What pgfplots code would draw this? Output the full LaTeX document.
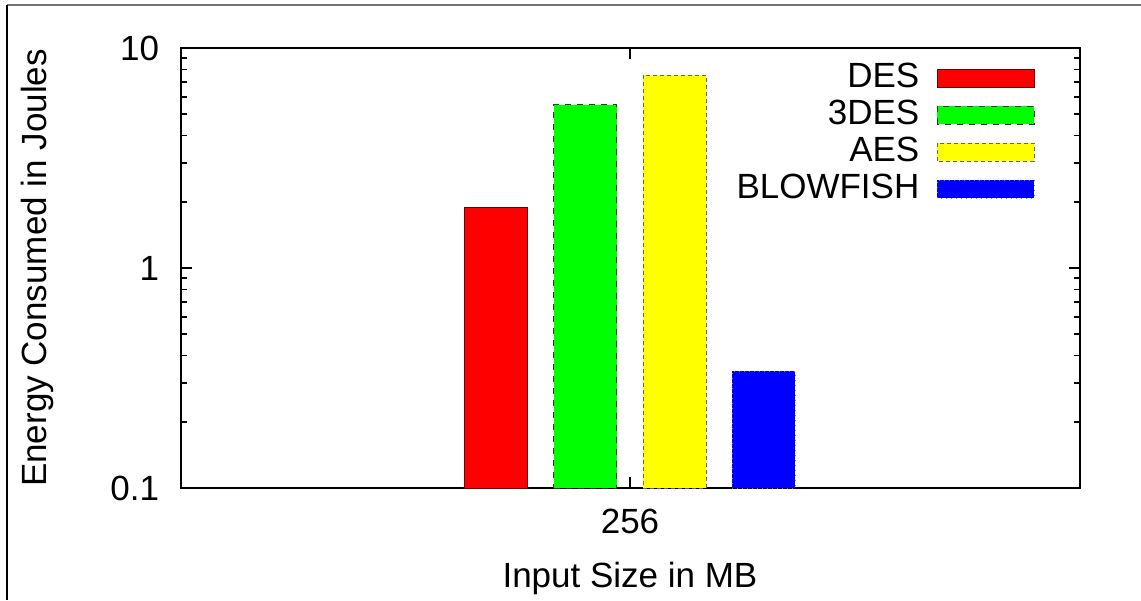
\documentclass[border=0pt]{standalone}
\usepackage{pgfplots}
\pgfplotsset{compat=1.18}
\usepackage{fontspec}
\setmainfont{Liberation Sans}
\begin{document}
\begin{tikzpicture}
\fontsize{17.5}{21}\selectfont
\path[use as bounding box] (-90.5pt,-56pt) rectangle (480pt,244pt);
\draw[black!55, line width=1pt] (-87pt,241.5pt) -- (480pt,241.5pt);
\draw[black, line width=1pt] (-87pt,-56pt) -- (-87pt,241.5pt);
\begin{axis}[
  at={(0pt,0pt)}, anchor=south west,
  scale only axis,
  width=449.5pt, height=220pt,
  ymode=log, ymin=0.1, ymax=10, log origin=infty,
  xmin=-449, xmax=450,
  ybar, bar width=63,
  xtick={0}, xticklabels={256},
  ytick={0.1,1,10}, yticklabels={0.1,1,10},
  line width=1.2pt,
  major tick length=5.5pt, minor tick length=3pt,
  every tick/.style={black, line width=0.8pt},
  tick align=inside,
  xtick pos=both, ytick pos=both,
  font=\fontsize{17.5}{21}\selectfont,
  yticklabel style={xshift=-4.5pt},
  xticklabel style={yshift=-4pt},
  /pgf/number format/assume math mode=true,
  ylabel={Energy Consumed in Joules},
  xlabel={Input Size in MB},
  every axis y label/.style={at={(axis description cs:-0.1602,0.5)}, rotate=90, anchor=center},
  every axis x label/.style={at={(axis description cs:0.4994,-0.2045)}, anchor=center},
  legend plot pos=right,
  legend cell align=right,
  legend style={draw=none, fill=none, at={(1,1)}, anchor=north east, xshift=-19pt, yshift=-3pt,
    row sep=-0.3pt, font=\fontsize{17.5}{21}\selectfont},
  legend image code/.code={\path[draw=none, fill=none] (0pt,0pt) -- (1pt,0pt); \draw[#1, bar shift=0pt] (7pt,-4.5pt) rectangle (55.5pt,4.5pt);},
]
\addplot[fill={rgb,255:red,255;green,0;blue,0}, draw=black!60!red, line width=0.5pt, bar shift=-134] coordinates {(0,1.89)};
\addplot[fill={rgb,255:red,0;green,255;blue,0}, draw=black!80, dashed, line width=0.5pt, bar shift=-45] coordinates {(0,5.51)};
\addplot[fill={rgb,255:red,255;green,255;blue,0}, draw=black!60, dash pattern=on 2pt off 1.5pt, line width=0.5pt, bar shift=44.5] coordinates {(0,7.54)};
\addplot[fill={rgb,255:red,0;green,0;blue,255}, draw=black!50, dotted, line width=0.5pt, bar shift=133.5] coordinates {(0,0.34)};
\legend{DES,3DES,AES,BLOWFISH}
\end{axis}
\end{tikzpicture}
\end{document}
